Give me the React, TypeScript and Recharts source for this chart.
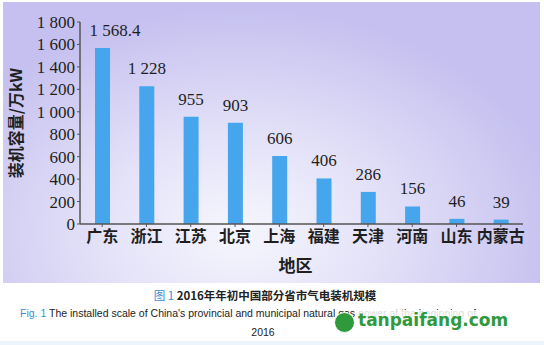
import React from 'react';
import { Bar, BarChart, Label, LabelList, XAxis, YAxis } from 'recharts';

// installed gas-fired capacity by province, 10k kW
const REGIONS = ['广东', '浙江', '江苏', '北京', '上海', '福建', '天津', '河南', '山东', '内蒙古'];
const CAPACITY = [1568.4, 1228, 955, 903, 606, 406, 286, 156, 46, 39];
const Y_TICKS = [0, 200, 400, 600, 800, 1000, 1200, 1400, 1600, 1800];

const data = REGIONS.map((region, i) => ({ region, capacity: CAPACITY[i] }));

const SERIF = '"Liberation Serif", "DejaVu Serif", serif';
const CJK = '"Noto Sans CJK SC", sans-serif';
const SANS = '"Liberation Sans", Arial, sans-serif';
const BLUE = '#3b8fd4';
const INK = '#1f1f1f';
const AXIS_X = 80;

// thousands separated by a non-breaking space (so labels don't wrap): 1 568.4
const fmt = (v: number | string) => {
  const [int, dec] = String(v).split('.');
  const grouped = int.replace(/\B(?=(\d{3})+(?!\d))/g, '\u00A0');
  return dec ? `${grouped}.${dec}` : grouped;
};

function YTitle({ viewBox }: any) {
  const cx = viewBox.x + 15;
  const cy = viewBox.y + viewBox.height / 2;
  return (
    <text
      x={cx}
      y={cy}
      transform={`rotate(-90 ${cx} ${cy})`}
      textAnchor="middle"
      dominantBaseline="central"
      fontFamily={CJK}
      fontWeight={700}
      fontSize={16}
      fill={INK}
    >
      装机容量/万kW
    </text>
  );
}

// value above each bar, nudged right when it would run into the y axis
function ValueLabel({ x, y, width, value }: any) {
  const text = fmt(value);
  const half = (text.length * 8.3) / 2;
  let cx = x + width / 2;
  if (cx - half < AXIS_X + 6) cx = AXIS_X + 6 + half;
  return (
    <text x={cx} y={y - 12} textAnchor="middle" fontFamily={SERIF} fontSize={17} fill={INK}>
      {text}
    </text>
  );
}

export default function App() {
  return (
    <div style={{ position: 'relative', width: 544, height: 345, background: '#fff', overflow: 'hidden' }}>
      <style>{'body{margin:0}'}</style>
      <div
        style={{
          position: 'absolute',
          left: 3,
          top: 2,
          width: 537,
          height: 281,
          background:
            'radial-gradient(ellipse 60% 80% at 44% 82%, #f6f6fd 0%, #e3e1f8 45%, #c5c0ef 100%)',
        }}
      />
      <div style={{ position: 'absolute', left: 0, top: 0 }}>
        <BarChart width={544} height={286} data={data} margin={{ top: 22, right: 21, bottom: 0, left: 0 }}>
          <YAxis
            width={AXIS_X}
            domain={[0, 1800]}
            ticks={Y_TICKS}
            interval={0}
            tickFormatter={fmt}
            tickSize={3}
            tickMargin={2}
            axisLine={{ stroke: '#555', strokeWidth: 1.5 }}
            tickLine={{ stroke: '#555' }}
            tick={{ fontFamily: SERIF, fontSize: 17, fill: INK }}
            label={<YTitle />}
          />
          <XAxis
            dataKey="region"
            height={62}
            interval={0}
            tickSize={3}
            tickMargin={4}
            axisLine={{ stroke: '#555', strokeWidth: 1.5 }}
            tickLine={{ stroke: '#555' }}
            tick={{ fontFamily: CJK, fontWeight: 700, fontSize: 16, fill: INK }}
          >
            <Label
              value="地区"
              position="insideBottom"
              offset={14}
              dx={-6}
              style={{ fontFamily: CJK, fontWeight: 700, fontSize: 17, fill: INK }}
            />
          </XAxis>
          <Bar dataKey="capacity" fill="#45a6ee" barSize={15} isAnimationActive={false}>
            <LabelList dataKey="capacity" content={<ValueLabel />} />
          </Bar>
        </BarChart>
      </div>
      <div
        style={{
          position: 'absolute',
          top: 286,
          left: 0,
          width: 530,
          textAlign: 'center',
          fontFamily: CJK,
          fontWeight: 700,
          fontSize: 11.5,
          color: '#222',
          lineHeight: '18px',
        }}
      >
        <span style={{ color: BLUE, fontWeight: 400 }}>图 1</span> 2016年年初中国部分省市气电装机规模
      </div>
      <div
        style={{
          position: 'absolute',
          top: 305,
          left: 20,
          whiteSpace: 'nowrap',
          fontFamily: SANS,
          fontSize: 10.5,
          color: '#222',
          lineHeight: '16px',
        }}
      >
        <span style={{ color: BLUE }}>Fig. 1</span> The installed scale of China's provincial and municipal natural gas power at the beginning of
      </div>
      <div
        style={{
          position: 'absolute',
          top: 324,
          left: 0,
          width: 526,
          textAlign: 'center',
          fontFamily: SANS,
          fontSize: 10.5,
          color: '#222',
          lineHeight: '16px',
        }}
      >
        2016
      </div>
      <div
        style={{
          position: 'absolute',
          left: 334,
          top: 312,
          width: 19,
          height: 19,
          borderRadius: '50%',
          background: '#2f9a3c',
          border: '1px solid #fff',
        }}
      />
      <div
        style={{
          position: 'absolute',
          top: 310,
          left: 358,
          fontFamily: '"DejaVu Sans", sans-serif',
          fontWeight: 700,
          fontSize: 17,
          color: '#2f9a3c',
          lineHeight: '20px',
          background: 'rgba(255,255,255,0.85)',
        }}
      >
        tanpaifang.com
      </div>
      <div style={{ position: 'absolute', left: 0, top: 341, width: 544, height: 4, background: '#eef4fc' }} />
    </div>
  );
}
